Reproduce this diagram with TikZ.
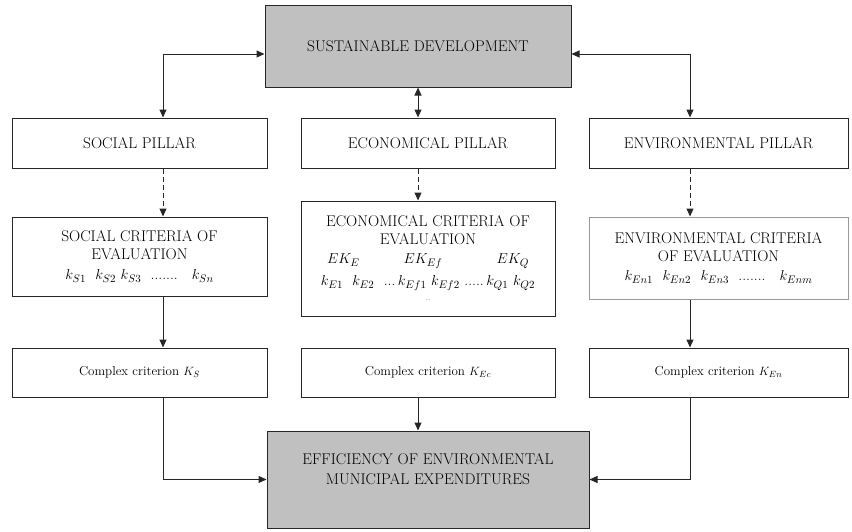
\documentclass[tikz,border=0pt]{standalone}
\usetikzlibrary{arrows.meta,calc}
\definecolor{boxgray}{HTML}{C0C0C0}
\definecolor{linecol}{HTML}{262626}
\definecolor{lightborder}{HTML}{9A9A9A}
\begin{document}
\begin{tikzpicture}[x=1pt,y=-1pt,
  box/.style={draw=linecol,line width=1pt,fill=white,inner sep=0pt,align=center,
    font=\fontsize{15.5}{18}\selectfont},
  graybox/.style={box,fill=boxgray},
  smalltext/.style={font=\fontsize{13}{15}\selectfont},
  conn/.style={draw=linecol,line width=1pt},
  tip/.style={-{Triangle[length=8pt,width=7pt]}},
  bitip/.style={{Triangle[length=8pt,width=7pt]}-{Triangle[length=8pt,width=7pt]}},
  dashconn/.style={conn,dash pattern=on 5pt off 3pt}
]
\useasboundingbox (0,0) rectangle (852,531);
% top
\node[graybox,minimum width=306pt,minimum height=82pt] (top) at (418,46) {SUSTAINABLE DEVELOPMENT};
% pillars
\node[box,minimum width=255pt,minimum height=50pt] (socp) at (139.5,143) {SOCIAL PILLAR};
\node[box,minimum width=254pt,minimum height=50pt] (ecop) at (428,143) {ECONOMICAL PILLAR};
\node[box,minimum width=259pt,minimum height=50pt] (envp) at (718.5,143) {ENVIRONMENTAL PILLAR};
% criteria
\node[box,minimum width=255pt,minimum height=79pt] (socc) at (139.5,256.5)
  {SOCIAL CRITERIA OF\\ EVALUATION\\[2pt]
   $k_{S1}$\ \ $k_{S2}$\ $k_{S3}$\ \ .......\ \ \ $k_{Sn}$};
\node[box,minimum width=254pt,minimum height=115pt] (ecoc) at (428,258.5)
  {ECONOMICAL CRITERIA OF\\ EVALUATION\\[1pt]
   $EK_E$\hspace{44pt}$EK_{Ef}$\hspace{54pt}$EK_Q$\\[4pt]
   $k_{E1}$\ \ $k_{E2}$\ \ ...\,$k_{Ef1}$\ $k_{Ef2}$\ .....\,$k_{Q1}$\ $k_{Q2}$\\[-3pt]
   {\fontsize{6}{6}\selectfont ..}};
\node[box,draw=lightborder,minimum width=259pt,minimum height=82pt] (envc) at (718.5,258)
  {ENVIRONMENTAL CRITERIA\\ OF EVALUATION\\[1pt]
   $k_{En1}$\ \ $k_{En2}$\ \ $k_{En3}$\ \ .......\ \ \ $k_{Enm}$};
% complex
\node[box,smalltext,minimum width=255pt,minimum height=49pt] (socx) at (139.5,372.5) {Complex criterion $K_S$};
\node[box,smalltext,minimum width=254pt,minimum height=49pt] (ecox) at (428,372.5) {Complex criterion $K_{Ec}$};
\node[box,smalltext,minimum width=259pt,minimum height=49pt] (envx) at (718.5,372.5) {Complex criterion $K_{En}$};
% bottom
\node[graybox,minimum width=322pt,minimum height=97pt] (bot) at (428,479.5) {};
\node[font=\fontsize{15.5}{20}\selectfont,align=center,inner sep=0pt] (bottxt) at (428,469)
  {EFFICIENCY OF ENVIRONMENTAL\\ MUNICIPAL EXPENDITURES};
% helper x/y positions
\coordinate (xs) at (163,0);
\coordinate (xe) at (418,0);
\coordinate (xv) at (690,0);
\coordinate (ya) at (0,54);
% top connectors
\draw[conn,bitip] (xs |- socp.north) -- (xs |- ya) -- (top.west |- ya);
\draw[conn,bitip] (top.east |- ya) -- (xv |- ya) -- (xv |- envp.north);
\draw[conn,bitip] (xe |- top.south) -- (xe |- ecop.north);
% dashed
\draw[dashconn,tip] (xs |- socp.south) -- (xs |- socc.north);
\draw[dashconn,tip] (xe |- ecop.south) -- (xe |- ecoc.north);
\draw[dashconn,tip] (xv |- envp.south) -- (xv |- envc.north);
% criteria -> complex
\draw[conn,tip] (xs |- socc.south) -- (xs |- socx.north);
\draw[conn,tip] (xv |- envc.south) -- (xv |- envx.north);
% complex -> bottom
\draw[conn,tip] (xe |- ecox.south) -- (xe |- bot.north);
\draw[conn,tip] (xs |- socx.south) |- (bot.west);
\draw[conn,tip] (xv |- envx.south) |- (bot.east);
\end{tikzpicture}
\end{document}
